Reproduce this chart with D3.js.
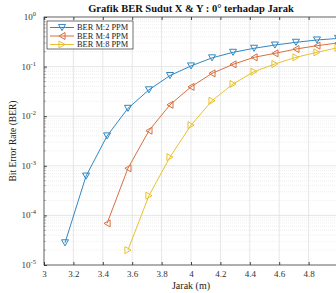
<!DOCTYPE html>
<html><head><meta charset="utf-8">
<script src="https://cdn.jsdelivr.net/npm/d3@7/dist/d3.min.js"></script>
<style>
html,body{margin:0;padding:0;background:#fff;overflow:hidden;}
svg{display:block;font-family:"Liberation Serif","DejaVu Serif",serif;}
</style></head>
<body>
<svg id="c" width="336" height="293"></svg>
<script>
const xTicks = [3, 3.2, 3.4, 3.6, 3.8, 4, 4.2, 4.4, 4.6, 4.8, 5];
const xTickLabels = ["3", "3.2", "3.4", "3.6", "3.8", "4", "4.2", "4.4", "4.6", "4.8", ""];
const yTickExps = [0, -1, -2, -3, -4, -5];

const seriesNames = ["BER M:2 PPM", "BER M:4 PPM", "BER M:8 PPM"];
const seriesColors = ["#3088c2", "#d7703f", "#e9c12e"];
const seriesMarkers = ["down", "left", "right"];

const xM2 = [3.143, 3.286, 3.429, 3.571, 3.714, 3.857, 4.0, 4.143, 4.286, 4.429, 4.571, 4.714, 4.857, 5.0];
const berM2 = [2.8e-5, 6.2e-4, 4.0e-3, 0.0144, 0.034, 0.066, 0.103, 0.15, 0.194, 0.234, 0.272, 0.309, 0.344, 0.37];
const xM4 = [3.429, 3.571, 3.714, 3.857, 4.0, 4.143, 4.286, 4.429, 4.571, 4.714, 4.857, 5.0];
const berM4 = [6.9e-5, 8.9e-4, 5.1e-3, 0.017, 0.039, 0.073, 0.111, 0.154, 0.185, 0.226, 0.264, 0.30];
const xM8 = [3.571, 3.714, 3.857, 4.0, 4.143, 4.286, 4.429, 4.571, 4.714, 4.857, 5.0];
const berM8 = [2.0e-5, 2.5e-4, 1.5e-3, 6.6e-3, 0.0205, 0.0446, 0.079, 0.113, 0.154, 0.194, 0.24];

const seriesX = [xM2, xM4, xM8];
const seriesY = [berM2, berM4, berM8];

const svg = d3.select("#c");
const L = 44, R = 338, T = 17, B = 265;
const x = d3.scaleLinear().domain([3, 5]).range([L, R]);
const y = d3.scaleLog().domain([1e-5, 1]).range([B, T]);

// minor grid
const minor = [];
for (let e = -5; e < 0; e++) for (let m = 2; m <= 9; m++) minor.push(m * Math.pow(10, e));
svg.append("g").selectAll("line").data(minor).join("line")
  .attr("x1", L).attr("x2", R).attr("y1", d => y(d)).attr("y2", d => y(d))
  .attr("stroke", "#e4e4e4").attr("stroke-width", 0.6).attr("stroke-dasharray", "1,1");
// major grid
const yMajor = yTickExps.map(e => Math.pow(10, e));
svg.append("g").selectAll("line").data(yMajor).join("line")
  .attr("x1", L).attr("x2", R).attr("y1", d => y(d)).attr("y2", d => y(d))
  .attr("stroke", "#dcdcdc").attr("stroke-width", 0.7);
svg.append("g").selectAll("line").data(xTicks).join("line")
  .attr("x1", d => x(d)).attr("x2", d => x(d)).attr("y1", T).attr("y2", B)
  .attr("stroke", "#dcdcdc").attr("stroke-width", 0.7);

// axes
const xAxis = d3.axisBottom(x).tickValues(xTicks).tickSize(-3).tickFormat((d, i) => xTickLabels[i]);
const gx = svg.append("g").attr("transform", `translate(0,${B})`).call(xAxis);
gx.select(".domain").remove();
gx.selectAll("line").attr("stroke", "#444");
gx.selectAll("text").attr("fill", "#333").attr("font-size", 9).attr("dy", "0.95em")
  .attr("font-family", "Liberation Serif, serif");
const gxTop = svg.append("g").attr("transform", `translate(0,${T})`)
  .call(d3.axisTop(x).tickValues(xTicks).tickSize(-3).tickFormat(""));
gxTop.select(".domain").remove();
gxTop.selectAll("line").attr("stroke", "#444");

const yAxis = d3.axisLeft(y).tickValues(yMajor).tickSize(-3).tickFormat("");
const gy = svg.append("g").attr("transform", `translate(${L},0)`).call(yAxis);
gy.select(".domain").remove();
gy.selectAll("line").attr("stroke", "#444");
// minor ticks on left
svg.append("g").selectAll("line").data(minor).join("line")
  .attr("x1", L).attr("x2", L + 1.8).attr("y1", d => y(d)).attr("y2", d => y(d))
  .attr("stroke", "#777").attr("stroke-width", 0.6);

// y tick labels with superscripts
const yl = svg.append("g").selectAll("text").data(yTickExps).join("text")
  .attr("x", 36).attr("y", e => y(Math.pow(10, e)) + 3)
  .attr("text-anchor", "end").attr("fill", "#333").attr("font-size", 9);
yl.append("tspan").text("10");
yl.append("tspan").attr("dy", -4).attr("font-size", 6.5).text(e => e);

// box
svg.append("rect").attr("x", L).attr("y", T).attr("width", R - L).attr("height", B - T)
  .attr("fill", "none").attr("stroke", "#333").attr("stroke-width", 0.7);

// markers
function tri(kind, s) {
  const h = s * 0.87;
  if (kind === "down") return `M${-s/2},${-h/2}L${s/2},${-h/2}L0,${h/2}Z`;
  if (kind === "left") return `M${h/2},${-s/2}L${h/2},${s/2}L${-h/2},0Z`;
  return `M${-h/2},${-s/2}L${-h/2},${s/2}L${h/2},0Z`;
}

const line = d3.line().x(d => x(d[0])).y(d => y(d[1]));
seriesNames.forEach((name, i) => {
  const pts = seriesX[i].map((v, j) => [v, seriesY[i][j]]);
  const g = svg.append("g");
  g.append("path").datum(pts).attr("d", line).attr("fill", "none")
    .attr("stroke", seriesColors[i]).attr("stroke-width", 1);
  g.selectAll("path.m").data(pts).join("path").attr("class", "m")
    .attr("transform", d => `translate(${x(d[0])},${y(d[1])})`)
    .attr("d", tri(seriesMarkers[i], 7)).attr("fill", "none")
    .attr("stroke", seriesColors[i]).attr("stroke-width", 1);
});

// legend
const lg = svg.append("g");
lg.append("rect").attr("x", 47).attr("y", 21).attr("width", 86).attr("height", 28)
  .attr("fill", "#fff").attr("stroke", "#333").attr("stroke-width", 0.7);
seriesNames.forEach((name, i) => {
  const yy = 27.5 + i * 8.5;
  lg.append("line").attr("x1", 50).attr("x2", 74).attr("y1", yy).attr("y2", yy)
    .attr("stroke", seriesColors[i]).attr("stroke-width", 1);
  lg.append("path").attr("transform", `translate(62,${yy})`).attr("d", tri(seriesMarkers[i], 7))
    .attr("fill", "none").attr("stroke", seriesColors[i]).attr("stroke-width", 1);
  lg.append("text").attr("x", 77).attr("y", yy + 2.8).attr("font-size", 8.4).attr("fill", "#222").text(name);
});

// title and labels
svg.append("text").attr("x", (L + R) / 2).attr("y", 12).attr("text-anchor", "middle")
  .attr("font-size", 10.5).attr("font-weight", "bold").attr("fill", "#111")
  .text("Grafik BER Sudut X & Y : 0° terhadap Jarak");
svg.append("text").attr("x", (L + R) / 2).attr("y", 288.5).attr("text-anchor", "middle")
  .attr("font-size", 10).attr("fill", "#222").text("Jarak (m)");
svg.append("text").attr("transform", `translate(16,${(T + B) / 2}) rotate(-90)`)
  .attr("text-anchor", "middle").attr("font-size", 9.5).attr("fill", "#222").text("Bit Error Rate (BER)");
</script>
</body></html>
